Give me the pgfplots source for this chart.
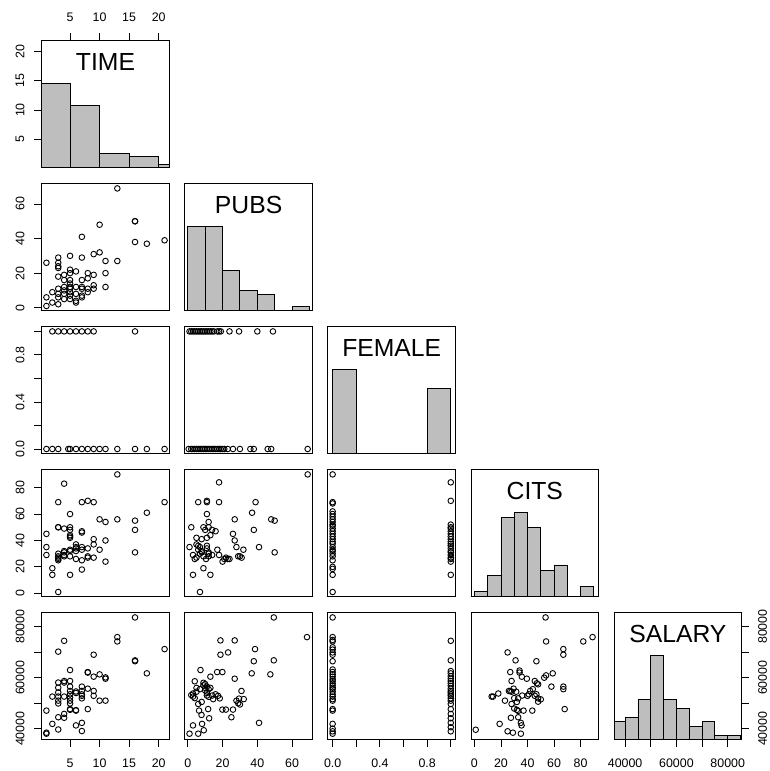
\documentclass[border=0pt]{standalone}
\usepackage{fontspec}
\setmainfont{Liberation Sans}
\usepackage{pgfplots}
\pgfplotsset{compat=1.18}
\definecolor{histgray}{HTML}{BEBEBE}

\tikzset{diag/.style={font=\fontsize{24.7}{29}\selectfont, anchor=center, inner sep=0pt}}
\pgfplotsset{
  panel/.style={
    scale only axis, width=127.6pt, height=127pt,
    axis line style={line width=0.9pt},
    tick align=outside, major tick length=7.5pt,
    tick style={black, line width=0.9pt},
    xtick=\empty, ytick=\empty,
    scaled ticks=false,
    ticklabel style={font=\fontsize{12.4}{14}\selectfont, inner sep=0pt},
    /pgf/number format/assume math mode=true,
  },
  pos/.style 2 args={at={(#1pt,-#2pt)}, anchor=north west},
  % variable scales: data range widened by 4% on each side
  xTIME/.style={xmin=0.2, xmax=21.8},
  yTIME/.style={ymin=0.2, ymax=21.8},
  xPUBS/.style={xmin=-1.72, xmax=71.72},
  yPUBS/.style={ymin=-1.72, ymax=71.72},
  xFEM/.style={xmin=-0.04, xmax=1.04},
  yFEM/.style={ymin=-0.04, ymax=1.04},
  xCITS/.style={xmin=-2.56, xmax=93.56},
  yCITS/.style={ymin=-2.56, ymax=93.56},
  xSAL/.style={xmin=35700, xmax=85460},
  ySAL/.style={ymin=35700, ymax=85460},
  % axis sides
  xb/.style={xtick pos=left, xticklabel pos=left, xticklabel style={anchor=center}, xticklabel shift=16.3pt},
  xt/.style={xtick pos=right, xticklabel pos=right, xticklabel style={anchor=center}, xticklabel shift=15.9pt},
  yl/.style={ytick pos=left, yticklabel pos=left, yticklabel style={rotate=90, anchor=center}, yticklabel shift=14.2pt},
  yr/.style={ytick pos=right, yticklabel pos=right, yticklabel style={rotate=90, anchor=center}, yticklabel shift=13.4pt},
  % tick sets
  tTIMEx/.style={xtick={5,10,15,20}, xticklabels={5,10,15,20}},
  tTIMEy/.style={ytick={5,10,15,20}, yticklabels={5,10,15,20}},
  tPUBSx/.style={xtick={0,20,40,60}, xticklabels={0,20,40,60}},
  tPUBSy/.style={ytick={0,20,40,60}, yticklabels={0,20,40,60}},
  tFEMx/.style={xtick={0,0.2,0.4,0.6,0.8,1}, xticklabels={0.0,,0.4,,0.8,}},
  tFEMy/.style={ytick={0,0.2,0.4,0.6,0.8,1}, yticklabels={0.0,,0.4,,0.8,}},
  tCITSx/.style={xtick={0,20,40,60,80}, xticklabels={0,20,40,60,80}},
  tCITSy/.style={ytick={0,20,40,60,80}, yticklabels={0,20,40,60,80}},
  tSALx/.style={xtick={40000,50000,60000,70000,80000}, xticklabels={40000,,60000,,80000}},
  tSALy/.style={ytick={40000,50000,60000,70000,80000}, yticklabels={40000,,60000,,80000}},
  % plot styles
  sc/.style={only marks, mark=o, mark size=2.8pt, black, mark options={black, line width=0.9pt}},
  hist/.style={ybar interval, fill=histgray, draw=black, line width=0.9pt},
}

\begin{document}
\begin{tikzpicture}
\useasboundingbox (0,0) rectangle (769pt,-771pt);

% ---------------- row 1: TIME ----------------
\begin{axis}[panel, pos={41.7}{40.7}, xTIME, ymin=0, ymax=45]
  \addplot[hist] coordinates {(0,30) (5,22) (10,5) (15,4) (20,1) (25,1)};
  \node[diag] at (rel axis cs:0.5,0.83) {TIME};
\end{axis}
\begin{axis}[panel, pos={41.7}{40.7}, xTIME, yTIME, xt, tTIMEx, yl, tTIMEy]
\end{axis}

% ---------------- row 2: PUBS ----------------
\begin{axis}[panel, pos={41.7}{183.7}, xTIME, yPUBS, yl, tPUBSy]
  \addplot[sc] coordinates {
    (1,26) (1,6) (1,1) (2,9) (2,3)
    (3,29) (3,26) (3,24) (3,23) (3,18) (3,11) (3,8) (3,6) (3,2)
    (4,19) (4,16) (4,12) (4,10) (4,8) (4,5)
    (5,30) (5,22) (5,20) (5,16) (5,14) (5,12) (5,11) (5,9) (5,7) (5,5)
    (6,21) (6,12) (6,8) (6,4) (6,3)
    (7,41) (7,29) (7,16) (7,12) (7,11) (7,7) (7,6)
    (8,20) (8,17) (8,11) (8,9)
    (9,31) (9,19) (9,13) (9,11)
    (10,32) (10,48) (11,27) (11,20) (11,12)
    (13,69) (13,27) (16,50) (16,50) (16,38) (18,37) (21,39)
  };
\end{axis}
\begin{axis}[panel, pos={184.8}{183.7}, xPUBS, ymin=0, ymax=31.5]
  \addplot[hist] coordinates {(0,21) (10,21) (20,10) (30,5) (40,4) (50,0) (60,1) (70,1)};
  \node[diag] at (rel axis cs:0.5,0.83) {PUBS};
\end{axis}

% ---------------- row 3: FEMALE ----------------
\begin{axis}[panel, pos={41.7}{326.7}, xTIME, yFEM, yl, tFEMy]
  \addplot[sc] coordinates {
    (2,1) (3,1) (4,1) (5,1) (6,1) (7,1) (8,1) (9,1) (16,1)
    (1,0) (2,0) (3,0) (4.7,0) (5,0) (6,0) (7,0) (8,0) (9,0) (10,0) (11,0)
    (13,0) (16,0) (18,0) (21,0)
  };
\end{axis}
\begin{axis}[panel, pos={184.8}{326.7}, xPUBS, yFEM]
  \addplot[sc] coordinates {
    (1,1) (2,1) (3,1) (4,1) (5,1) (6,1) (7,1) (8,1) (9,1) (10,1) (11,1) (12,1)
    (13,1) (14,1) (15,1) (17,1) (18,1) (19,1) (24,1) (29.5,1) (40,1) (49,1)
    (0.5,0) (2,0) (3,0) (4,0) (5,0) (6,0) (7,0) (8,0) (9,0) (10,0) (11,0)
    (12,0) (13,0) (14,0) (15,0) (16,0) (17,0) (18,0) (19,0) (20,0) (21,0)
    (23,0) (26,0) (30,0) (36,0) (38,0) (46,0) (48,0) (69,0)
  };
\end{axis}
\begin{axis}[panel, pos={327.9}{326.7}, xFEM, ymin=0, ymax=52.5]
  \addplot[hist] coordinates {(0,35) (0.2,0) (0.4,0) (0.6,0) (0.8,27) (1.0,27)};
  \node[diag] at (rel axis cs:0.5,0.83) {FEMALE};
\end{axis}

% ---------------- row 4: CITS ----------------
\begin{axis}[panel, pos={41.7}{469.7}, xTIME, yCITS, yl, tCITSy]
  \addplot[sc] coordinates {
    (1,45) (1,35) (1,29) (2,19) (2,14)
    (3,1) (3,69) (3,50) (3,50) (3,28) (3,26) (3,25) (3,30) (3,27)
    (4,83) (4,49) (4,32) (4,28) (4,29) (4,31)
    (5,60) (5,50) (5,48) (5,43) (5,42) (5,33) (5,32) (5,28) (5,14) (5,44)
    (6,37) (6,34) (6,32) (6,26) (6,35)
    (7,69) (7,47) (7,46) (7,35) (7,25) (7,18) (7,33)
    (8,70) (8,34) (8,28) (8,27)
    (9,69) (9,41) (9,37) (9,27)
    (10,56) (10,33) (11,54) (11,40) (11,24)
    (13,90) (13,56) (16,55) (16,48) (16,31) (18,61) (21,69)
  };
\end{axis}
\begin{axis}[panel, pos={184.8}{469.7}, xPUBS, yCITS]
  \addplot[sc] coordinates {
    (2,50) (1,35) (3,29) (4,26) (5,27) (5,42) (6,69) (6,36) (7,35) (8,32)
    (8,31) (3,14) (7,1) (9,19) (9,50) (10,48) (24,26) (12,30) (6,33) (7,30)
    (9,28) (11,34) (8,41) (5,37)
    (11,42) (11,70) (11,69) (11,60) (12,54) (12,50) (13,14) (14,48) (12,28)
    (16,47) (18,84) (18,69) (17,33) (18,29) (20,24) (11,36) (12,31) (13,44)
    (14,29) (10.5,26)
    (21,26) (22,27) (23,26) (26,45) (27,40) (27,56) (28,35) (29,28) (30,28)
    (31,27) (32,33) (37,61) (38,48) (39,69) (41,35) (48,56) (50,55) (50,31)
    (69,90)
  };
\end{axis}
\begin{axis}[panel, pos={327.9}{469.7}, xFEM, yCITS]
  \addplot[sc] coordinates {
    (0,90) (0,69) (0,68) (0,62) (0,60) (0,58) (0,56) (0,54) (0,52) (0,51)
    (0,49) (0,47) (0,45) (0,43) (0,41) (0,39) (0,37.5) (0,35) (0,33) (0,32)
    (0,30) (0,28) (0,25) (0,20) (0,18.5) (0,14) (0,1)
    (1,84) (1,70) (1,52) (1,50) (1,49) (1,47) (1,45) (1,43) (1,41) (1,39)
    (1,37.5) (1,36) (1,34) (1,32) (1,31) (1,29) (1,27) (1,26) (1,24) (1,14)
  };
\end{axis}
\begin{axis}[panel, pos={471.0}{469.7}, xCITS, ymin=0, ymax=24]
  \addplot[hist] coordinates {(0,1) (10,4) (20,15) (30,16) (40,13) (50,5) (60,6) (70,0) (80,2) (90,2)};
  \node[diag] at (rel axis cs:0.5,0.83) {CITS};
\end{axis}

% ---------------- row 5: SALARY ----------------
\begin{axis}[panel, pos={41.7}{612.7}, xTIME, ySAL, yl, tSALy, xb, tTIMEx]
  \addplot[sc] coordinates {
    (1,47100) (1,38450) (1,38060) (2,41900) (2,52600)
    (3,70200) (3,58100) (3,56100) (3,54200) (3,52600) (3,51000) (3,49900) (3,44500) (3,39700)
    (4,74450) (4,58700) (4,58100) (4,52600) (4,45800) (4,44300)
    (5,63000) (5,58700) (5,56500) (5,54800) (5,53500) (5,52200) (5,51000) (5,49900) (5,47700) (5,47400)
    (6,54600) (6,54000) (6,47100) (6,47300) (6,41300)
    (7,56500) (7,54800) (7,53500) (7,52900) (7,51900) (7,42300) (7,39100)
    (8,62200) (8,62000) (8,55700) (8,47700)
    (9,69000) (9,60400) (9,54800) (9,52900)
    (10,61300) (10,51000) (11,60100) (11,59600) (11,51000)
    (13,75900) (13,74200) (16,83600) (16,66800) (16,66450) (18,61700) (21,71200)
  };
\end{axis}
\begin{axis}[panel, pos={184.8}{612.7}, xPUBS, ySAL, xb, tPUBSx]
  \addplot[sc] coordinates {
    (1,38060) (3,41300) (2,53200) (3,53800) (3,52600) (4,58600) (6,49700) (6.5,47100)
    (7,55500) (7.3,63000) (7.9,45400) (8.2,41900) (9.2,39400) (6,38060)
    (9,58000) (9,57000) (10,56000) (10,55000) (11,54000) (11,53000) (12,52500)
    (10,57500) (11,56500) (12,55500)
    (11.7,47700) (12.3,44100) (13,60400) (14.6,51600) (16,53500) (17.4,52900)
    (18.4,51900) (18.8,74600) (18.8,69000) (16.9,62200) (19.9,62200) (19.9,47500)
    (21.9,47500) (23.2,69900) (25.1,44500) (26,47500) (27,59600) (27,74600)
    (28,51000) (29,50000) (30,49500) (29.5,51800) (30.9,54800) (32.2,51600)
    (36.8,61700) (38,66450) (38.7,71200) (41,42300) (47.5,61300) (49.5,66800)
    (49.5,83600) (68.6,75900)
    (5,56000) (5,54500) (4,52000) (8,50500) (13,56000) (14,53000)
  };
\end{axis}
\begin{axis}[panel, pos={327.9}{612.7}, xFEM, ySAL, xb, tFEMx]
  \addplot[sc] coordinates {
    (0,83600) (0,75900) (0,74800) (0,74200) (0,71900) (0,71000) (0,69900) (0,69000)
    (0,66450) (0,63200) (0,62200) (0,61300) (0,60400) (0,59400) (0,58700) (0,57800)
    (0,57000) (0,56100) (0,55500) (0,54500) (0,53500) (0,52600) (0,51600) (0,51000)
    (0,47700) (0,47100) (0,41900) (0,40000) (0,38970) (0,38060)
    (1,74450) (1,66800) (1,62600) (1,61700) (1,60600) (1,59600) (1,58700) (1,57800)
    (1,56800) (1,55700) (1,54800) (1,54200) (1,53500) (1,52900) (1,51900) (1,51000)
    (1,49700) (1,47700) (1,45800) (1,44100) (1,42300) (1,40600) (1,38970)
  };
\end{axis}
\begin{axis}[panel, pos={471.0}{612.7}, xCITS, ySAL, xb, tCITSx]
  \addplot[sc] coordinates {
    (1,39600) (13,52600) (14,52600) (18,53800) (19,41900) (25,69900) (25,39000)
    (23,51000) (26,54800) (27,54800) (28,54500) (27,62200) (27.5,44300) (28,58700)
    (28,49700) (29,38450) (29.5,55700) (31,66800) (31.5,54500) (32,47400) (33,47000)
    (33,51900) (33,44500) (34,62000) (34,62800) (35,42300) (35.5,41300) (35,38060)
    (35.7,60400) (37,47100) (39.5,59600) (40,52900) (41,53500) (42,54800) (43.6,47100)
    (45.5,58700) (47,57800) (45.5,52900) (46.7,53500) (46.7,66450) (48,57400)
    (48,51900) (48,50600) (52.6,60000) (54,60900) (53.6,83600) (54,74200) (59,61700)
    (58,56500) (67,71200) (67,69000) (67,56500) (67,55500) (68,47700) (82,74200)
    (89,75900)
    (30,52000) (32,50500) (36,53000) (44,55500) (50,51500) (30,47900)
  };
\end{axis}
\begin{axis}[panel, pos={614.1}{612.7}, xSAL, ymin=0, ymax=28.5, xb, tSALx]
  \addplot[hist] coordinates {(35000,4) (40000,5) (45000,9) (50000,19) (55000,9)
    (60000,7) (65000,3) (70000,4) (75000,1) (80000,1) (85000,1)};
  \node[diag] at (rel axis cs:0.5,0.83) {SALARY};
\end{axis}
\begin{axis}[panel, pos={614.1}{612.7}, xSAL, ySAL, yr, tSALy]
\end{axis}

\end{tikzpicture}
\end{document}
